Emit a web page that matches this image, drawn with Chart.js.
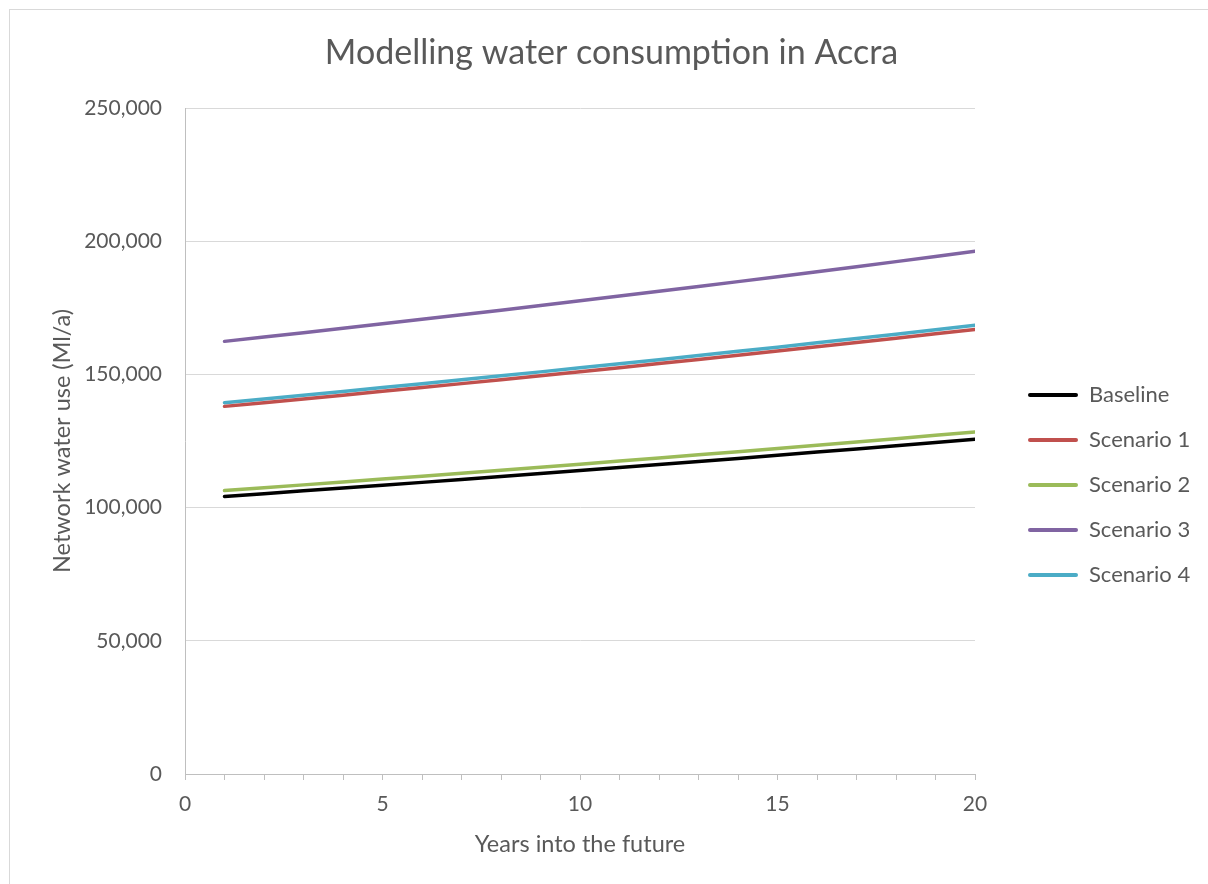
<!DOCTYPE html>
<html>
<head>
<meta charset="utf-8">
<title>Modelling water consumption in Accra</title>
<script src="https://cdn.jsdelivr.net/npm/chart.js@4/dist/chart.umd.min.js"></script>
<style>
  html, body { margin: 0; padding: 0; background: #ffffff; overflow: hidden; }
  #wrap { position: relative; width: 1208px; height: 884px; }
  #frame { position: absolute; left: 9px; top: 9px; width: 1400px; height: 1000px;
           border: 1px solid #d9d9d9; box-sizing: border-box; pointer-events: none; }
  canvas { display: block; }
</style>
</head>
<body>
<div id="wrap">
  <canvas id="chart" width="1208" height="884"></canvas>
  <div id="frame"></div>
</div>
<script>
// Years into the future
const years = [1, 2, 3, 4, 5, 6, 7, 8, 9, 10, 11, 12, 13, 14, 15, 16, 17, 18, 19, 20];

// Network water use (Ml/a) per scenario
const baseline  = [104200, 105230, 106280, 107330, 108400, 109470, 110560, 111660, 112770, 113890,
                   115020, 116160, 117310, 118470, 119650, 120840, 122040, 123250, 124470, 125700];
const scenario1 = [138000, 139390, 140790, 142210, 143640, 145080, 146540, 148010, 149500, 151000,
                   152520, 154050, 155600, 157170, 158750, 160340, 161950, 163580, 165220, 166880];
const scenario2 = [106400, 107460, 108530, 109610, 110700, 111800, 112910, 114030, 115160, 116310,
                   117460, 118630, 119810, 121000, 122200, 123410, 124640, 125880, 127130, 128390];
const scenario3 = [162400, 164020, 165660, 167320, 169000, 170690, 172390, 174120, 175860, 177620,
                   179390, 181190, 183000, 184830, 186680, 188540, 190430, 192330, 194260, 196200];
const scenario4 = [139400, 140790, 142200, 143620, 145060, 146510, 147970, 149450, 150950, 152460,
                   153980, 155520, 157080, 158650, 160230, 161840, 163450, 165090, 166740, 168410];

const seriesNames  = ['Baseline', 'Scenario 1', 'Scenario 2', 'Scenario 3', 'Scenario 4'];
const seriesValues = [baseline, scenario1, scenario2, scenario3, scenario4];
const seriesColors = ['#000000', '#c0504d', '#9bbb59', '#8064a2', '#4bacc6'];

const chartTitle = 'Modelling water consumption in Accra';
const xTitle = 'Years into the future';
const yTitle = 'Network water use (Ml/a)';

// Layout geometry (canvas pixels)
const FAMILY = 'Lato, "Open Sans", sans-serif';
const TEXT = '#595959';
const W = 1208;
const plotLeft = 185, plotRight = 975, plotBottom = 774;
const legendFont = 22, legendPad = 23, legendBoxW = 50, gapWidth = 30;

// Reserve exactly enough room on the right for the legend column
const measure = document.createElement('canvas').getContext('2d');
measure.font = legendFont + 'px ' + FAMILY;
const longest = Math.max(...seriesNames.map(n => measure.measureText(n).width));
const legendWidth = legendPad + legendBoxW + legendFont / 2 + longest + 10;
const padRight = Math.max(0, W - plotRight - gapWidth - legendWidth);
const padLeft = padRight + 15;
const axisTitleFont = 23.5;
const yTitlePad = 62 - padLeft - axisTitleFont * 1.2 / 2;
const tickFont = 21;

const titleFont = 34;
const titleTop = 53 - titleFont * 1.2 / 2;
const titleBottom = 108 - titleTop - titleFont * 1.2;

Chart.defaults.font.family = FAMILY;
Chart.defaults.color = TEXT;

const datasets = seriesNames.map((name, i) => ({
  label: name,
  data: years.map((yr, j) => ({ x: yr, y: seriesValues[i][j] })),
  borderColor: seriesColors[i],
  backgroundColor: seriesColors[i],
  borderWidth: 3.5,
  borderCapStyle: 'round',
  borderJoinStyle: 'round',
  pointRadius: 0,
  pointHoverRadius: 0,
  tension: 0
}));

new Chart(document.getElementById('chart'), {
  type: 'line',
  data: { datasets },
  options: {
    responsive: false,
    animation: false,
    devicePixelRatio: 1,
    layout: { padding: { left: padLeft, right: padRight, top: 0, bottom: 0 } },
    plugins: {
      tooltip: { enabled: false },
      title: {
        display: true,
        text: chartTitle,
        color: TEXT,
        font: { size: titleFont, weight: 'normal' },
        padding: { top: titleTop, bottom: titleBottom }
      },
      legend: {
        position: 'right',
        align: 'center',
        title: { display: true, text: '', font: { size: 10 }, padding: 37 },
        labels: {
          boxWidth: legendBoxW,
          boxHeight: 4,
          padding: legendPad,
          color: TEXT,
          font: { size: legendFont },
          generateLabels(chart) {
            const items = Chart.defaults.plugins.legend.labels.generateLabels(chart);
            items.forEach(it => { it.lineWidth = 0; it.borderRadius = 2; });
            return items;
          }
        }
      }
    },
    scales: {
      x: {
        type: 'linear',
        min: 0,
        max: 20,
        ticks: {
          stepSize: 1,
          autoSkip: false,
          maxRotation: 0,
          padding: 11.9,
          color: TEXT,
          font: { size: tickFont },
          callback: v => (v % 5 === 0 ? String(v) : '')
        },
        grid: { drawOnChartArea: false, tickLength: 6, color: '#bfbfbf', tickColor: '#bfbfbf' },
        border: { color: '#bfbfbf', width: 1 },
        title: {
          display: true,
          text: xTitle,
          color: TEXT,
          font: { size: axisTitleFont },
          padding: { top: 0, bottom: 40 - axisTitleFont * 1.2 / 2 }
        },
        afterFit(scale) { scale.height = 884 - plotBottom; }
      },
      y: {
        type: 'linear',
        min: 0,
        max: 250000,
        ticks: {
          stepSize: 50000,
          padding: 23,
          color: TEXT,
          font: { size: tickFont },
          callback: v => Number(v).toLocaleString('en-US')
        },
        grid: { color: '#d9d9d9', drawTicks: false },
        border: { color: '#bfbfbf', width: 1 },
        title: {
          display: true,
          text: yTitle,
          color: TEXT,
          font: { size: axisTitleFont },
          padding: { top: yTitlePad, bottom: 0 }
        },
        afterFit(scale) { scale.width = plotLeft - padLeft; }
      },
      // empty spacer column between the plot and the legend
      gap: {
        type: 'linear',
        position: 'right',
        display: true,
        ticks: { display: false },
        grid: { display: false, drawTicks: false },
        border: { display: false },
        afterFit(scale) { scale.width = gapWidth; }
      }
    }
  }
});
</script>
</body>
</html>
